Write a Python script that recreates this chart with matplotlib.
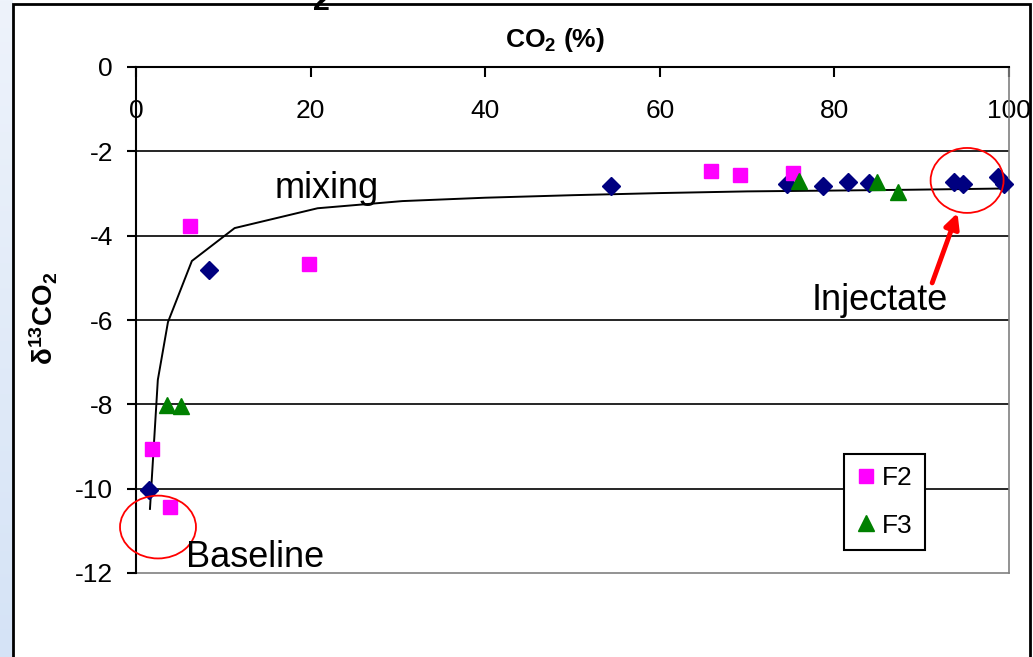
import numpy as np
import matplotlib
matplotlib.use("Agg")
import matplotlib.pyplot as plt
from matplotlib.patches import Ellipse, Rectangle

plt.rcParams["font.family"] = ["Liberation Sans", "DejaVu Sans"]
plt.rcParams["axes.unicode_minus"] = False
plt.rcParams["mathtext.fontset"] = "custom"
plt.rcParams["mathtext.rm"] = "Liberation Sans"
plt.rcParams["mathtext.it"] = "Liberation Sans:italic"
plt.rcParams["mathtext.bf"] = "Liberation Sans:bold"

# series: CO2 (%) vs d13C of CO2
F1_CO2 = [1.5, 8.4, 54.4, 74.6, 78.7, 81.6, 84.0, 93.7, 94.7, 98.7, 99.4]
F1_D13C = [-10.03, -4.81, -2.82, -2.77, -2.82, -2.73, -2.75, -2.73, -2.77, -2.61, -2.77]

F2_CO2 = [1.8, 3.9, 6.2, 19.8, 65.9, 69.2, 75.3]
F2_D13C = [-9.06, -10.43, -3.77, -4.67, -2.47, -2.56, -2.52]

F3_CO2 = [3.55, 5.15, 75.9, 84.9, 87.3]
F3_D13C = [-8.01, -8.04, -2.70, -2.73, -2.96]

MIX_CO2 = [1.6, 2.5, 3.66, 6.4, 11.3, 20.8, 30.5, 40, 50, 60, 70, 80, 89, 100]
MIX_D13C = [-10.48, -7.42, -6.05, -4.6, -3.82, -3.35, -3.18, -3.10, -3.04,
            -2.99, -2.95, -2.93, -2.91, -2.88]

X_TICKS = [0, 20, 40, 60, 80, 100]
Y_TICKS = [-12, -10, -8, -6, -4, -2, 0]

W, H = 1033, 657


def px_x(x):
    return x / W


def px_y(y):
    return 1 - y / H


def draw_background(fig):
    bg = fig.add_axes([0, 0, 1, 1])
    bg.set_xlim(0, W)
    bg.set_ylim(H, 0)
    bg.axis("off")
    grad = np.linspace(0, 1, 256).reshape(-1, 1)
    cmap = matplotlib.colors.LinearSegmentedColormap.from_list(
        "strip", ["#eef3fb", "#d5e3f6"])
    bg.imshow(grad, cmap=cmap, extent=[0, 13, H, 0], aspect="auto")
    bg.add_patch(Rectangle((13, 4), 1017, H + 20, facecolor="white",
                           edgecolor="black", linewidth=2))
    # bottom of a cut-off title subscript
    fig.text(px_x(313), px_y(10), "2", fontsize=22, fontweight="bold",
             va="baseline")


def main():
    fig = plt.figure(figsize=(W / 100, H / 100), dpi=100)
    draw_background(fig)

    ax = fig.add_axes([px_x(136), px_y(573), (1009 - 136) / W, (573 - 67) / H])
    ax.set_facecolor("white")
    ax.set_xlim(0, 100)
    ax.set_ylim(-12, 0)

    for yv in Y_TICKS[1:-1]:
        ax.axhline(yv, color="black", linewidth=1.2, zorder=1)
    ax.axhline(-12, color="#808080", linewidth=1.2, clip_on=False, zorder=1)

    ax.spines["top"].set_visible(False)
    ax.spines["bottom"].set_position(("data", 0))
    ax.spines["bottom"].set_linewidth(1.5)
    ax.spines["left"].set_linewidth(1.5)
    ax.spines["right"].set_color("#808080")
    ax.spines["right"].set_linewidth(1.2)

    ax.set_xticks(X_TICKS)
    ax.set_yticks(Y_TICKS)
    ax.tick_params(axis="x", direction="out", length=7, width=1.5,
                   labelsize=19, pad=16)
    ax.tick_params(axis="y", direction="out", length=6.5, width=1.5,
                   labelsize=19, pad=10)

    ax.plot(MIX_CO2, MIX_D13C, color="black", linewidth=1.4, zorder=2)
    ax.plot(F1_CO2, F1_D13C, "D", color="#000080", markersize=9,
            linestyle="none", clip_on=False, zorder=3, label="_nolegend_")
    ax.plot(F2_CO2, F2_D13C, "s", color="#ff00ff", markersize=9.5,
            linestyle="none", clip_on=False, zorder=3, label="F2")
    ax.plot(F3_CO2, F3_D13C, "^", color="#008000", markersize=11,
            linestyle="none", clip_on=False, zorder=3, label="F3")

    ax.add_patch(Ellipse((2.52, -10.91), 8.7, 1.49, facecolor="none",
                         edgecolor="red", linewidth=1.3, clip_on=False, zorder=4))
    ax.add_patch(Ellipse((95.2, -2.69), 8.36, 1.54, facecolor="none",
                         edgecolor="red", linewidth=1.3, clip_on=False, zorder=4))
    ax.annotate("", xy=(94.1, -3.46), xytext=(91.2, -5.12),
                arrowprops=dict(arrowstyle="-|>", color="red", lw=3.5,
                                mutation_scale=22, shrinkA=0, shrinkB=0),
                zorder=4)

    ax.text(15.9, -3.11, "mixing", fontsize=26, va="baseline", zorder=5)
    ax.text(5.73, -11.86, "Baseline", fontsize=26, va="baseline", zorder=5)
    ax.text(77.4, -5.76, "Injectate", fontsize=26, va="baseline", zorder=5)

    leg = ax.legend(loc="upper left", bbox_to_anchor=(px_x(844), px_y(454)),
                    bbox_transform=fig.transFigure, fontsize=19,
                    frameon=True, fancybox=False, borderaxespad=0,
                    borderpad=0.45, handlelength=0.8, handletextpad=0.2,
                    labelspacing=0.9, framealpha=1)
    leg.get_frame().set_edgecolor("black")
    leg.get_frame().set_linewidth(1.5)
    leg.set_zorder(6)

    fig.text(px_x(555), px_y(40), r"$\mathbf{CO_2}$ (%)", fontsize=19,
             fontweight="bold", ha="center", va="center")
    fig.text(px_x(44), px_y(318), r"$\mathbf{\delta^{13}CO_2}$", fontsize=20,
             rotation=90, ha="center", va="center")

    fig.savefig("out.png", dpi=100)


if __name__ == "__main__":
    main()
